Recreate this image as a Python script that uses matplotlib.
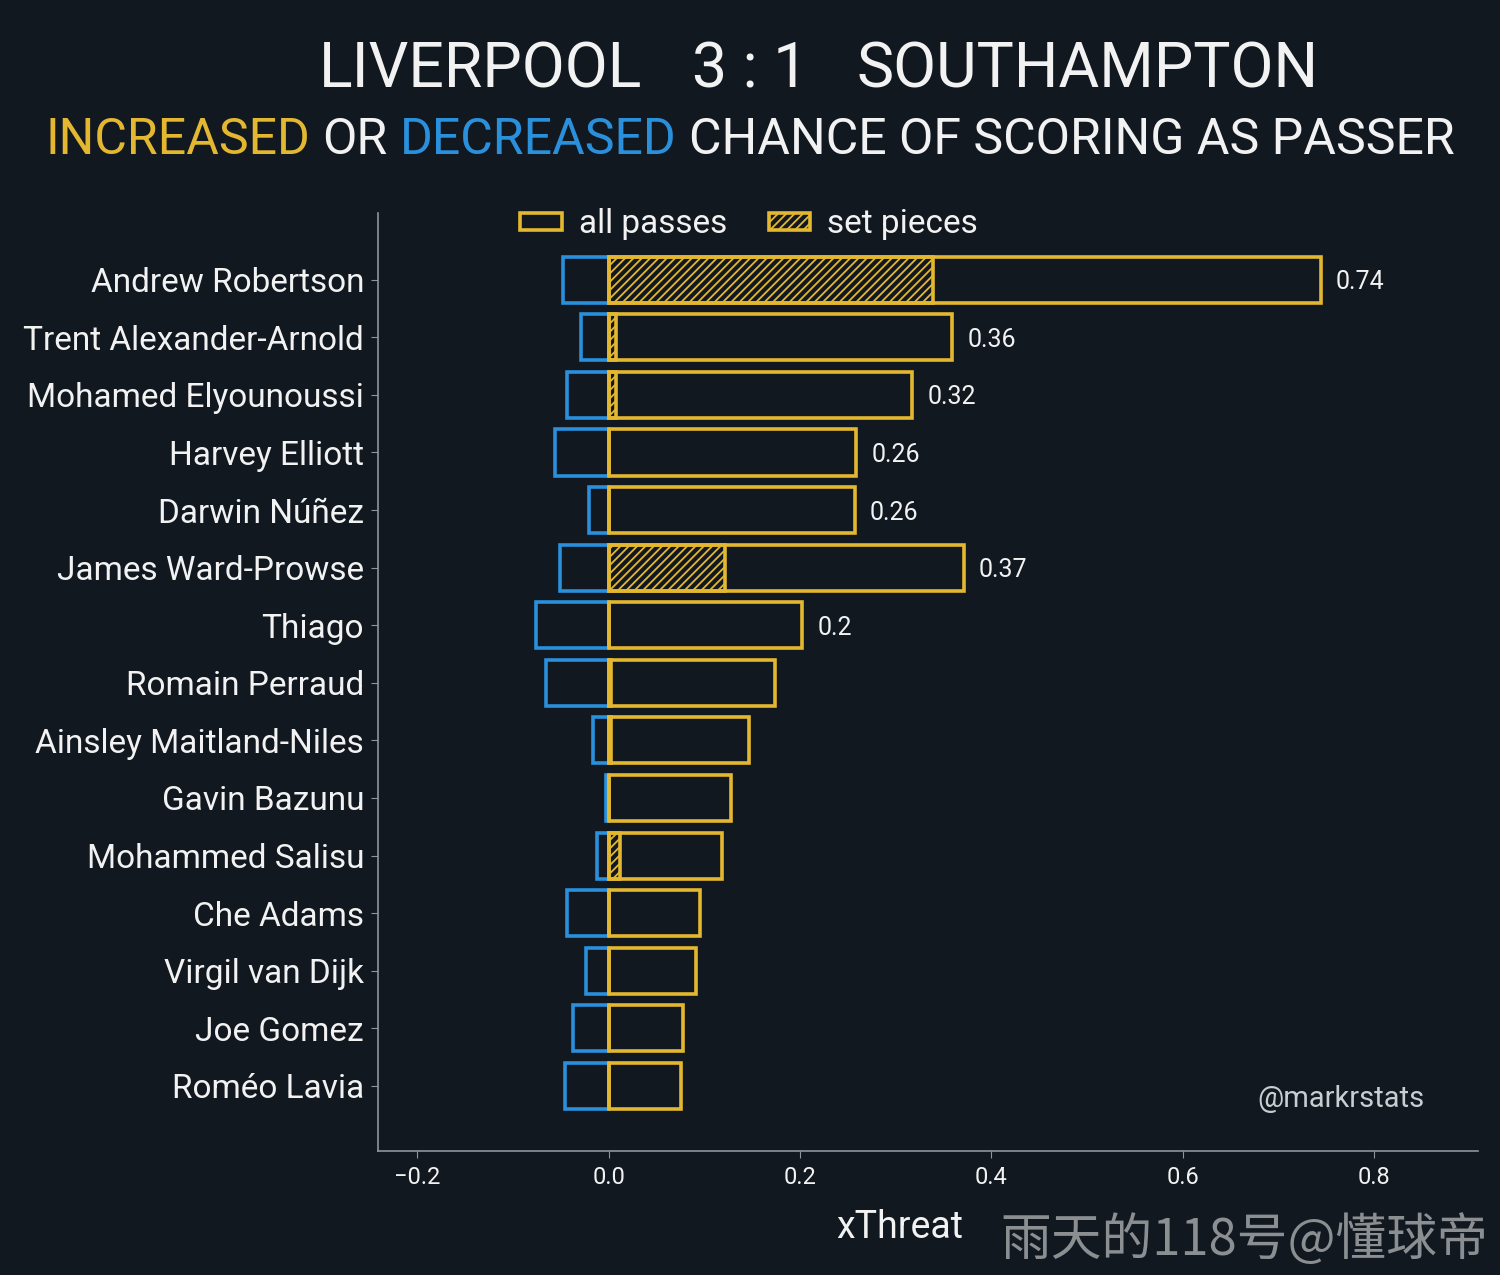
import matplotlib
matplotlib.use("Agg")
import matplotlib.pyplot as plt
import matplotlib.patches as mpatches
import numpy as np

players = ["Andrew Robertson", "Trent Alexander-Arnold", "Mohamed Elyounoussi",
           "Harvey Elliott", "Darwin Núñez", "James Ward-Prowse", "Thiago",
           "Romain Perraud", "Ainsley Maitland-Niles", "Gavin Bazunu",
           "Mohammed Salisu", "Che Adams", "Virgil van Dijk", "Joe Gomez",
           "Roméo Lavia"]
all_passes = [0.744, 0.359, 0.317, 0.259, 0.257, 0.371, 0.202,
              0.174, 0.147, 0.128, 0.118, 0.096, 0.091, 0.078, 0.076]
decreased = [-0.048, -0.029, -0.043, -0.056, -0.020, -0.051, -0.076,
             -0.065, -0.016, -0.003, -0.012, -0.044, -0.024, -0.037, -0.046]
set_pieces = [0.339, 0.008, 0.008, 0.0, 0.0, 0.122, 0.0,
              0.003, 0.003, 0.0, 0.012, 0.0, 0.0, 0.0, 0.0]

bg = "#111820"
yellow = "#e3b730"
blue = "#2a90dc"
grey = "#8d969c"
white = "#f2f2f2"

plt.rcParams["font.family"] = ["Roboto", "DejaVu Sans"]
plt.rcParams["hatch.linewidth"] = 1.3

fig = plt.figure(figsize=(15, 12.75), dpi=100, facecolor=bg)
ax = fig.add_axes([0.252, 0.0973, 0.733, 0.7357])
ax.set_facecolor(bg)

y = np.arange(len(players))
lw = 2.6
ax.barh(y, decreased, height=0.8, facecolor="none", edgecolor=blue, linewidth=lw)
ax.barh(y, all_passes, height=0.8, facecolor="none", edgecolor=yellow, linewidth=lw)
ax.barh(y, set_pieces, height=0.8, facecolor="none", edgecolor=yellow,
        linewidth=lw, hatch="////")

for yi, v in zip(y, all_passes):
    if v >= 0.195:
        ax.text(v + 0.016, yi, f"{round(v, 2):g}", color=white, fontsize=18,
                va="center_baseline", ha="left")

ax.set_xlim(-0.241, 0.908)
ax.set_ylim(len(players) - 1 + 1.13, -1.16)
ax.set_yticks(y)
ax.set_yticklabels(players)
ax.set_xticks([-0.2, 0.0, 0.2, 0.4, 0.6, 0.8])
ax.set_xticklabels(["\u22120.2", "0.0", "0.2", "0.4", "0.6", "0.8"])
ax.tick_params(axis="y", colors=grey, labelcolor=white, labelsize=24, length=5, pad=5)
ax.tick_params(axis="x", colors=grey, labelcolor=white, labelsize=17, length=5, pad=6)
for s in ["top", "right"]:
    ax.spines[s].set_visible(False)
for s in ["left", "bottom"]:
    ax.spines[s].set_color(grey)
    ax.spines[s].set_linewidth(1.2)

handles = [mpatches.Patch(facecolor="none", edgecolor=yellow, linewidth=lw, label="all passes"),
           mpatches.Patch(facecolor="none", edgecolor=yellow, linewidth=lw, hatch="////",
                          label="set pieces")]
fig.legend(handles=handles, loc="center", bbox_to_anchor=(0.4993, 0.824), ncol=2,
           frameon=False, fontsize=24, labelcolor=white, handlelength=1.25,
           handleheight=0.45, handletextpad=0.5, columnspacing=1.25)

# title
fig.text(0.5, 0.931, "3 : 1", color=white, fontsize=45, ha="center", va="baseline")
fig.text(0.428, 0.931, "LIVERPOOL", color=white, fontsize=45, ha="right", va="baseline")
fig.text(0.571, 0.931, "SOUTHAMPTON", color=white, fontsize=45, ha="left", va="baseline")

# subtitle in several colours
pieces = [("INCREASED", yellow), ("OR", white), ("DECREASED", blue),
          ("CHANCE OF SCORING AS PASSER", white)]
sub_size = 36
renderer = fig.canvas.get_renderer()
probe = [fig.text(0, 0, t, fontsize=sub_size) for t in ["A A", "AA"]]
space = probe[0].get_window_extent(renderer).width - probe[1].get_window_extent(renderer).width
for p in probe:
    p.remove()
texts = [fig.text(0, 0.879, t, color=c, fontsize=sub_size, ha="left", va="baseline")
         for t, c in pieces]
widths = [t.get_window_extent(renderer).width for t in texts]
total = sum(widths) + space * (len(texts) - 1)
x0 = fig.bbox.width * 0.5 - total / 2
for t, w in zip(texts, widths):
    t.set_x(x0 / fig.bbox.width)
    x0 += w + space

fig.text(0.6, 0.029, "xThreat", color=white, fontsize=27, ha="center", va="baseline")
fig.text(0.894, 0.132, "@markrstats", color="#c8cdd0", fontsize=21, ha="center", va="baseline")
fig.text(0.992, 0.0157, "雨天的118号@懂球帝", color="#8c8f92", fontsize=36.5, ha="right",
         va="baseline", family=["Noto Sans CJK SC", "DejaVu Sans"])

fig.savefig("out.png", dpi=100, facecolor=bg)
